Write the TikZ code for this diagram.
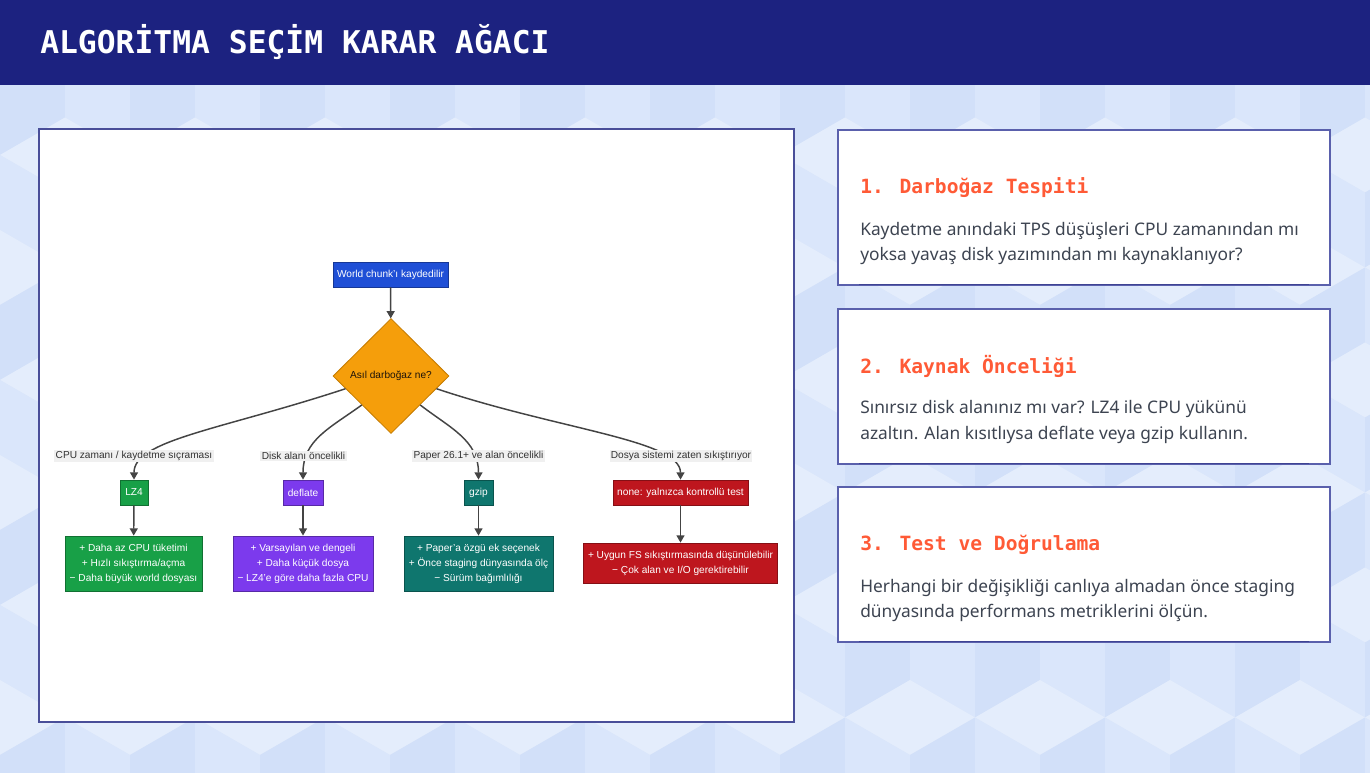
\documentclass[tikz,border=0pt]{standalone}
\usepackage{fontspec}
\setmainfont{Liberation Sans}
\newfontfamily\monob{DejaVu Sans Mono}
\newfontfamily\bodyf{Noto Sans}
\usetikzlibrary{shapes.geometric,arrows.meta,calc}
\definecolor{navy}{HTML}{1C2280}
\definecolor{bgA}{HTML}{DCE7FA}
\definecolor{cubeT}{HTML}{E4EDFC}
\definecolor{cubeL}{HTML}{DAE6FB}
\definecolor{cubeR}{HTML}{D2E0F9}
\definecolor{cardborder}{HTML}{5A60AC}
\definecolor{headorange}{HTML}{FF5A36}
\definecolor{bodytext}{HTML}{3D4451}
\definecolor{startblue}{HTML}{1F4FD6}
\definecolor{dorange}{HTML}{F59E0B}
\definecolor{dorangeb}{HTML}{C47A00}
\definecolor{gfill}{HTML}{18A047}
\definecolor{pfill}{HTML}{7C3AED}
\definecolor{tfill}{HTML}{0F766E}
\definecolor{rfill}{HTML}{BE161E}
\definecolor{edgegray}{HTML}{444444}
\tikzset{
  box/.style={draw=#1!70!black, fill=#1, text=white, inner sep=0pt, align=center,
    font=\fontsize{7.6pt}{11.25pt}\selectfont, line width=0.6pt},
  elabel/.style={fill=gray!12, text=black!80, inner sep=1pt, font=\fontsize{7.6pt}{9pt}\selectfont},
  edge/.style={draw=edgegray, line width=1.1pt, -{Triangle[length=5.5pt,width=6pt]}},
  card/.style={draw=cardborder, fill=white, line width=0.8pt, minimum width=369pt, minimum height=116.25pt, inner sep=0pt},
  cardhead/.style={anchor=west, text=headorange, font=\monob\bfseries\fontsize{14.7pt}{16pt}\selectfont, inner sep=0pt},
  cardbody/.style={anchor=west, text=bodytext, align=left, font=\bodyf\fontsize{13pt}{18.9pt}\selectfont, inner sep=0pt},
  cardline/.style={draw=navy!85, line width=1.4pt}
}
\begin{document}
\begin{tikzpicture}[x=0.75pt,y=-0.75pt]
\useasboundingbox (0,0) rectangle (1370,772);
\fill[bgA] (0,0) rectangle (1370,772);
\begin{scope}
\clip (0,85) rectangle (1370,772);
\foreach \j in {0,...,7}{
  \foreach \i in {-1,...,11}{
    \pgfmathsetmacro{\cx}{\i*130+mod(\j,2)*65}
    \pgfmathsetmacro{\cy}{80+\j*112.5}
    \begin{scope}[shift={(\cx,\cy)}]
      \fill[cubeT] (0,0) -- (-65,-37.5) -- (0,-75) -- (65,-37.5) -- cycle;
      \fill[cubeL] (0,0) -- (-65,-37.5) -- (-65,37.5) -- (0,75) -- cycle;
      \fill[cubeR] (0,0) -- (65,-37.5) -- (65,37.5) -- (0,75) -- cycle;
    \end{scope}
  }
}
\end{scope}
% header
\fill[navy] (0,0) rectangle (1370,85);
\node[anchor=west, text=white, inner sep=0pt, font=\monob\bfseries\fontsize{23.5pt}{26pt}\selectfont] (title) at (40,42) {ALGORİTMA SEÇİM KARAR AĞACI};
% diagram panel
\node[draw=navy!80, fill=white, line width=0.8pt, minimum width=566.25pt, minimum height=444.75pt, inner sep=0pt] (panel) at (416.5,425.5) {};
% nodes
\node[box=startblue, minimum width=86.25pt, minimum height=18.75pt] (start) at (390.5,274.5) {World chunk'ı kaydedilir};
\node[diamond, aspect=1, draw=dorangeb, fill=dorange, line width=0.6pt, minimum width=87pt, minimum height=86.25pt, inner sep=0pt, text=black!85!brown, font=\fontsize{7.6pt}{9pt}\selectfont] (d) at (391,376) {Asıl darboğaz ne?};
\node[box=gfill, minimum width=21pt, minimum height=18.75pt] (lz4) at (134,492.5) {LZ4};
\node[box=pfill, minimum width=30pt, minimum height=18.75pt] (defl) at (303,492.5) {deflate};
\node[box=tfill, minimum width=21.75pt, minimum height=18.75pt] (gzip) at (478.5,492.5) {gzip};
\node[box=rfill, minimum width=101.25pt, minimum height=18.75pt] (none) at (680.5,492.5) {none: yalnızca kontrollü test};
\node[box=gfill, minimum width=102.75pt, minimum height=41.25pt] (lz4d) at (133.5,563.5) {+ Daha az CPU tüketimi\\+ Hızlı sıkıştırma/açma\\− Daha büyük world dosyası};
\node[box=pfill, minimum width=105pt, minimum height=41.25pt] (defld) at (303,563.5) {+ Varsayılan ve dengeli\\+ Daha küçük dosya\\− LZ4'e göre daha fazla CPU};
\node[box=tfill, minimum width=111.75pt, minimum height=41.25pt] (gzipd) at (478.5,563.5) {+ Paper'a özgü ek seçenek\\+ Önce staging dünyasında ölç\\− Sürüm bağımlılığı};
\node[box=rfill, minimum width=145.5pt, minimum height=30pt] (noned) at (680.5,563) {+ Uygun FS sıkıştırmasında düşünülebilir\\− Çok alan ve I/O gerektirebilir};
% edges
\draw[edge] (start) -- (d);
\draw[edge] ($(d.west)!0.22!(d.south)$) .. controls (220,430) and (134,440) .. (lz4.north);
\draw[edge] ($(d.west)!0.5!(d.south)$) .. controls (330,428) and (303,440) .. (defl.north);
\draw[edge] ($(d.east)!0.5!(d.south)$) .. controls (450,428) and (478.5,440) .. (gzip.north);
\draw[edge] ($(d.east)!0.22!(d.south)$) .. controls (560,430) and (680.5,440) .. (none.north);
\draw[edge] (lz4) -- (lz4d);
\draw[edge] (defl) -- (defld);
\draw[edge] (gzip) -- (gzipd);
\draw[edge] (none) -- (noned);
% edge labels
\node[elabel] (l1) at (134,456) {CPU zamanı / kaydetme sıçraması};
\node[elabel] (l2) at (303.5,456) {Disk alanı öncelikli};
\node[elabel] (l3) at (478.5,456) {Paper 26.1+ ve alan öncelikli};
\node[elabel] (l4) at (681,456) {Dosya sistemi zaten sıkıştırıyor};
% cards
\node[card] (card1) at (1084,207.5) {};
\node[card] (card2) at (1084,386.5) {};
\node[card] (card3) at (1084,564.5) {};
\draw[cardline] ($(card1.south west)+(22,-1)$) -- ($(card1.south east)+(-22,-1)$);
\draw[cardline] ($(card2.south west)+(22,-1)$) -- ($(card2.south east)+(-22,-1)$);
\draw[cardline] ($(card3.south west)+(22,-1)$) -- ($(card3.south east)+(-22,-1)$);
\node[cardhead] (h1) at (860,188) {1. Darboğaz Tespiti};
\node[cardbody] (b1) at (860,243.5) {Kaydetme anındaki TPS düşüşleri CPU zamanından mı\\yoksa yavaş disk yazımından mı kaynaklanıyor?};
\node[cardhead] (h2) at (860,366) {2. Kaynak Önceliği};
\node[cardbody] (b2) at (860,422) {Sınırsız disk alanınız mı var? LZ4 ile CPU yükünü\\azaltın. Alan kısıtlıysa deflate veya gzip kullanın.};
\node[cardhead] (h3) at (860,545) {3. Test ve Doğrulama};
\node[cardbody] (b3) at (860,600.5) {Herhangi bir değişikliği canlıya almadan önce staging\\dünyasında performans metriklerini ölçün.};
\end{tikzpicture}
\end{document}
